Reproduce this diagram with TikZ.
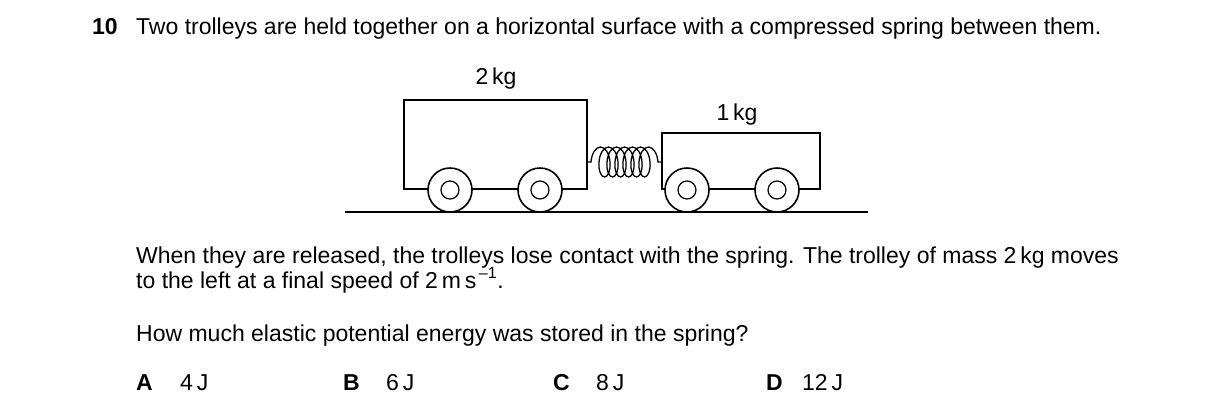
\documentclass[tikz,border=0pt]{standalone}
\usepackage{fontspec}
\setmainfont{Liberation Sans}
\usetikzlibrary{decorations.pathmorphing}

\begin{document}
\begin{tikzpicture}[
  x=1pt, y=-1pt,
  every node/.style = {inner sep=0pt, font=\fontsize{23}{27}\selectfont},
  txt/.style = {anchor=base west},
  lbl/.style = {font=\fontsize{23}{27}\selectfont\bfseries, anchor=base west},
  body/.style = {draw, line width=1.6pt},
  wheel/.style = {draw, fill=white, line width=1.6pt}
]
  \useasboundingbox (0,0) rectangle (1216,416);
  % question text
  \node[lbl] (num) at (92,34) {10};
  \node[txt] (q1) at (136,34) {Two trolleys are held together on a horizontal surface with a compressed spring between them.};
  \node[txt] (q2) at (136,263) {When they are released, the trolleys lose contact with the spring. The trolley of mass 2\,kg moves};
  \node[txt] (q3) at (136,288) {to the left at a final speed of 2\,m\,s\textsuperscript{\,–1}.};
  \node[txt] (q4) at (136,341) {How much elastic potential energy was stored in the spring?};
  % options
  \node[lbl] (oA) at (136,390) {A};
  \node[txt] (aA) at (180,390) {4\,J};
  \node[lbl] (oB) at (343,390) {B};
  \node[txt] (aB) at (386,390) {6\,J};
  \node[lbl] (oC) at (553,390) {C};
  \node[txt] (aC) at (596,390) {8\,J};
  \node[lbl] (oD) at (766,390) {D};
  \node[txt] (aD) at (802,390) {12\,J};
  % trolleys
  \draw[body] (404,100) rectangle (587,189);
  \draw[body] (662,133) rectangle (820,189);
  \node (m2) at (496,79) {2\,kg};
  \node (m1) at (737,115) {1\,kg};
  \foreach \wx in {450,540,687,777} {
    \draw[wheel] (\wx,190) circle (22);
    \draw[line width=1.2pt] (\wx,190) circle (9);
  }
  % spring
  \coordinate (s1) at (587,162);
  \coordinate (s2) at (662,162);
  \draw[line width=1.3pt, decorate, decoration={coil, amplitude=15pt, segment length=8pt, pre length=4pt, post length=2pt}] (s1) -- (s2);
  % ground
  \draw[line width=1.6pt] (345,212) -- (868,212);
\end{tikzpicture}
\end{document}
